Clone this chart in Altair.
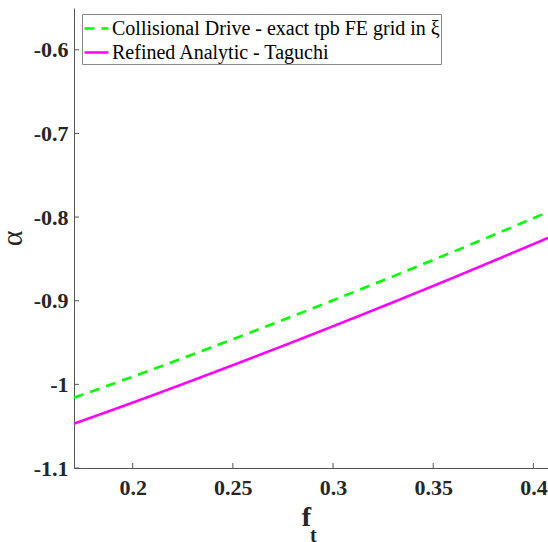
import altair as alt
import pandas as pd

# ---- data ----
ft_vals = [0.1707, 0.20, 0.25, 0.30, 0.35, 0.40, 0.4073]
drive_vals = [-1.016, -0.9908, -0.946, -0.8995, -0.8513, -0.8013, -0.7939]
taguchi_vals = [-1.047, -1.0218, -0.977, -0.9305, -0.8823, -0.8323, -0.8249]
series_names = ["Collisional Drive - exact tpb FE grid in ξ", "Refined Analytic - Taguchi"]
x_ticks = [0.2, 0.25, 0.3, 0.35, 0.4]
y_ticks = [-1.1, -1.0, -0.9, -0.8, -0.7, -0.6]
x_domain = [0.1707, 0.4073]
y_domain = [-1.1, -0.55]

rows = []
for f, d, t in zip(ft_vals, drive_vals, taguchi_vals):
    rows.append({"ft": f, "alpha": d, "series": series_names[0]})
    rows.append({"ft": f, "alpha": t, "series": series_names[1]})
df = pd.DataFrame(rows)

W, H = 474, 460
FONT = "Liberation Serif"
LABEL_EXPR = "datum.value < 0 ? '-' + format(-datum.value, '~g') : format(datum.value, '~g')"

xs = alt.Scale(domain=x_domain, nice=False, zero=False)
ys = alt.Scale(domain=y_domain, nice=False, zero=False)

leg = alt.Legend(title=None, orient="none", legendX=8, legendY=6,
                 strokeColor="#888888", fillColor="white", padding=1,
                 symbolType="stroke", symbolSize=576, symbolStrokeWidth=2.5,
                 labelFont=FONT, labelFontSize=20, labelColor="black",
                 labelOffset=2, rowPadding=0, labelLimit=0, cornerRadius=0)

lines = alt.Chart(df).mark_line(strokeWidth=2.6, clip=True, interpolate="monotone").encode(
    x=alt.X("ft:Q", scale=xs,
            axis=alt.Axis(values=x_ticks, title="f", labelExpr=LABEL_EXPR, labelPadding=9,
                          titleFontSize=28, titleFontWeight="bold", titlePadding=5,
                          titleX=232, titleAlign="center")),
    y=alt.Y("alpha:Q", scale=ys,
            axis=alt.Axis(values=y_ticks, title="α", labelExpr=LABEL_EXPR, labelPadding=6,
                          titleFontSize=30, titleFontWeight="normal", titlePadding=6)),
    color=alt.Color("series:N",
                    scale=alt.Scale(domain=series_names, range=["#00ff00", "#ff00ff"]),
                    legend=leg),
    strokeDash=alt.StrokeDash("series:N",
                              scale=alt.Scale(domain=series_names, range=[[10, 7], [1, 0]]),
                              legend=leg),
    order=alt.Order("ft:Q"),
)

xt = alt.Chart(pd.DataFrame({"v": x_ticks})).mark_rule(color="#555555", strokeWidth=1).encode(
    x=alt.X("v:Q", scale=xs), y=alt.value(H), y2=alt.value(H - 5))
yt = alt.Chart(pd.DataFrame({"v": y_ticks})).mark_rule(color="#555555", strokeWidth=1).encode(
    y=alt.Y("v:Q", scale=ys), x=alt.value(0), x2=alt.value(5))

sub_t = alt.Chart(pd.DataFrame({"s": ["t"]})).mark_text(
    font=FONT, fontSize=20, fontWeight="bold", color="#262626", align="left", baseline="middle"
).encode(text="s:N", x=alt.value(236), y=alt.value(528))

chart = alt.layer(lines, xt, yt, sub_t).properties(
    width=W, height=H,
    autosize=alt.AutoSizeParams(type="none"),
    padding={"left": 74, "top": 8, "right": 0, "bottom": 74},
).configure_view(stroke=None).configure_axis(
    grid=False, ticks=False, domainColor="#555555", domainWidth=1,
    labelFont=FONT, labelFontSize=22, labelFontWeight="bold", labelColor="#262626",
    titleFont=FONT, titleColor="#262626",
)

chart.save("out.html", embed_options={"renderer": "svg", "actions": False})
